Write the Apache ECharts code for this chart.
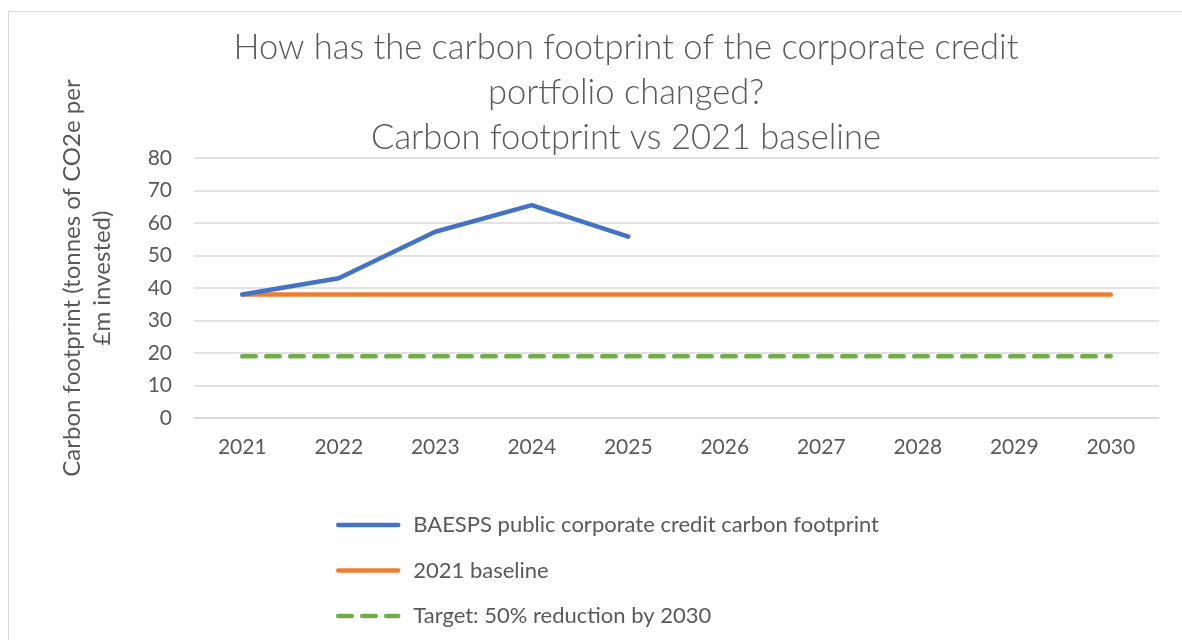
<!DOCTYPE html>
<html><head><meta charset="utf-8">
<script src="https://cdn.jsdelivr.net/npm/echarts@6/dist/echarts.min.js"></script>
<style>html,body{margin:0;padding:0;background:#fff}#c{width:1182px;height:640px}</style>
</head><body><div id="c"></div>
<script>
const years = ['2021','2022','2023','2024','2025','2026','2027','2028','2029','2030'];
const footprint = [38, 43, 57.3, 65.5, 55.8, null, null, null, null, null];
const baseline = [38, 38, 38, 38, 38, 38, 38, 38, 38, 38];
const target = [19, 19, 19, 19, 19, 19, 19, 19, 19, 19];
const seriesNames = ['BAESPS public corporate credit carbon footprint', '2021 baseline', 'Target: 50% reduction by 2030'];
const titleText = 'How has the carbon footprint of the corporate credit\nportfolio changed?\nCarbon footprint vs 2021 baseline';
const yTitle = 'Carbon footprint (tonnes of CO2e per\n£m invested)';

const FONT = 'Lato';
const chart = echarts.init(document.getElementById('c'));
chart.setOption({
  animation: false,
  backgroundColor: '#fff',
  textStyle: { fontFamily: FONT },
  title: {
    text: titleText,
    left: 621, textAlign: 'center', top: 20,
    textStyle: { fontFamily: FONT, fontWeight: 300, fontSize: 34.5, color: '#595959', lineHeight: 45 }
  },
  graphic: [
    { type: 'rect', shape: { x: 8.5, y: 11.5, width: 1200, height: 700 }, style: { fill: 'none', stroke: '#d9d9d9', lineWidth: 1 }, silent: true },
    { type: 'text', x: 87, y: 278, rotation: Math.PI / 2,
      style: { text: yTitle, fontFamily: FONT, fontSize: 24, fill: '#595959', align: 'center', verticalAlign: 'middle', lineHeight: 30 } }
  ],
  grid: { left: 194, right: 23, top: 158, bottom: 222, containLabel: false },
  xAxis: {
    type: 'category', data: years, boundaryGap: true,
    axisLine: { lineStyle: { color: '#d9d9d9', width: 1.5 } },
    axisTick: { show: false },
    axisLabel: { color: '#595959', fontSize: 21, fontFamily: FONT, margin: 19 }
  },
  yAxis: {
    type: 'value', min: 0, max: 80, interval: 10,
    axisLine: { show: false }, axisTick: { show: false },
    axisLabel: { color: '#595959', fontSize: 21, fontFamily: FONT, margin: 22 },
    splitLine: { lineStyle: { color: '#d9d9d9', width: 1.5 } }
  },
  legend: {
    orient: 'vertical', left: 331, top: 509, itemGap: 23.5,
    itemWidth: 60, itemHeight: 22,
    itemStyle: { opacity: 0 },
    lineStyle: { width: 4.5, cap: 'round' },
    textStyle: { color: '#595959', fontSize: 22, fontFamily: FONT, padding: [0, 0, 0, 10] },
    data: seriesNames
  },
  series: [
    { name: seriesNames[0], type: 'line', data: footprint, symbol: 'none', connectNulls: false,
      lineStyle: { color: '#4472c4', width: 4.5, cap: 'round', join: 'round' }, itemStyle: { color: '#4472c4' }, z: 3 },
    { name: seriesNames[1], type: 'line', data: baseline, symbol: 'none',
      lineStyle: { color: '#ed7d31', width: 4.5, cap: 'round' }, itemStyle: { color: '#ed7d31' }, z: 2 },
    { name: seriesNames[2], type: 'line', data: target, symbol: 'none',
      lineStyle: { color: '#70ad47', width: 4.5, type: [13.5, 10.5], cap: 'round' }, itemStyle: { color: '#70ad47' }, z: 2 }
  ]
});
</script></body></html>
